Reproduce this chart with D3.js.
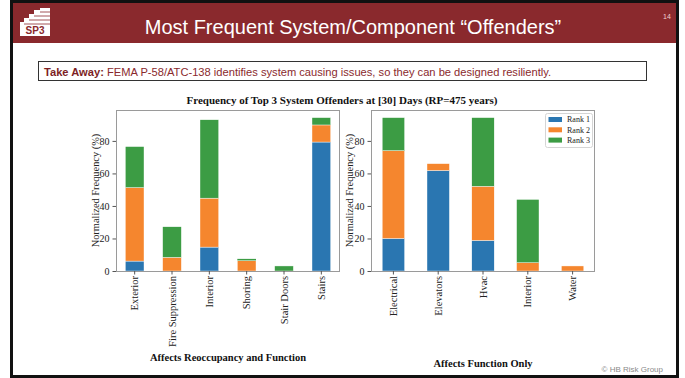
<!DOCTYPE html>
<html><head><meta charset="utf-8">
<script src="https://cdn.jsdelivr.net/npm/d3@7"></script>
<style>
html,body{margin:0;padding:0;background:#fff;}
svg{display:block;}
</style></head>
<body>
<svg id="c" width="685" height="378"></svg>
<script>
// ---- data ----
const leftCategories = ["Exterior","Fire Suppression","Interior","Shoring","Stair Doors","Stairs"];
const leftRank1 = [6.1, 0, 14.7, 0, 0, 79.3];
const leftRank2 = [45.2, 8.4, 30.1, 6.3, 0, 10.5];
const leftRank3 = [25.2, 18.8, 48.2, 1.2, 3.1, 4.5];

const rightCategories = ["Electrical","Elevators","Hvac","Interior","Water"];
const rightRank1 = [20.0, 61.8, 18.8, 0, 0];
const rightRank2 = [54.0, 4.2, 33.3, 5.1, 3.1];
const rightRank3 = [20.3, 0, 42.2, 38.9, 0];

const seriesNames = ["Rank 1","Rank 2","Rank 3"];
const yTicks = [0,20,40,60,80];
const yMax = 99;

const colors = ["#2a76b1","#f5862e","#3c9c44"];
const serif = "'Liberation Serif','Times New Roman',serif";
const sans = "'Liberation Sans',Arial,sans-serif";

const svg = d3.select("#c");

// ---- slide frame ----
svg.append("rect").attr("x",12).attr("y",3).attr("width",664).attr("height",40).attr("fill","#8a292d");
svg.append("rect").attr("x",11.5).attr("y",1.5).attr("width",666).attr("height",375)
  .attr("fill","none").attr("stroke","#111").attr("stroke-width",3);

// logo
const logo = svg.append("g");
logo.append("path").attr("d","M20,36 L20,22 L24,22 L24,18 L29,18 L29,14 L34,14 L34,10 L40,10 L40,8 L50,8 L50,36 Z")
  .attr("fill","#fff");
[[24,22],[29,18],[34,14],[40,10]].forEach(([x0,y0])=>{
  logo.append("line").attr("x1",x0).attr("x2",50).attr("y1",y0+2).attr("y2",y0+2).attr("stroke","#8a292d").attr("stroke-width",0.8);
});
logo.append("text").attr("x",35).attr("y",33.5).attr("text-anchor","middle")
  .attr("font-family",sans).attr("font-weight","bold").attr("font-size",10).attr("fill","#8a292d").text("SP3");

svg.append("text").attr("x",353).attr("y",34).attr("text-anchor","middle")
  .attr("font-family",sans).attr("font-size",20).attr("fill","#fff")
  .text("Most Frequent System/Component \u201cOffenders\u201d");
svg.append("text").attr("x",667).attr("y",19).attr("text-anchor","middle")
  .attr("font-family",sans).attr("font-size",7).attr("fill","#f2cfcf").text("14");

// take away box
svg.append("rect").attr("x",38.5).attr("y",61.5).attr("width",608).attr("height",19)
  .attr("fill","#fff").attr("stroke","#333").attr("stroke-width",1);
const ta = svg.append("text").attr("x",44).attr("y",75.5).attr("font-family",sans).attr("font-size",11.15).attr("fill","#8a292d");
ta.append("tspan").attr("font-weight","bold").attr("fill","#7d1f25").text("Take Away:");
ta.append("tspan").text(" FEMA P-58/ATC-138 identifies system causing issues, so they can be designed resiliently.");

// chart title
svg.append("text").attr("x",342).attr("y",104).attr("text-anchor","middle")
  .attr("font-family",serif).attr("font-weight","bold").attr("font-size",11).attr("fill","#111")
  .text("Frequency of Top 3 System Offenders at [30] Days (RP=475 years)");

function panel(cats, r1, r2, r3, x0, x1, subtitle, subY, ylabX, legend) {
  const top = 110, bottom = 271;
  const rows = cats.map((c,i)=>({cat:c, "Rank 1":r1[i], "Rank 2":r2[i], "Rank 3":r3[i]}));
  const stack = d3.stack().keys(seriesNames)(rows);
  const x = d3.scaleBand().domain(cats).range([x0,x1]).paddingInner(0.5).paddingOuter(0.25);
  const y = d3.scaleLinear().domain([0,yMax]).range([bottom,top]);
  const g = svg.append("g");
  stack.forEach((s,k)=>{
    g.append("g").selectAll("rect").data(s).join("rect")
      .attr("x",d=>x(d.data.cat)).attr("width",x.bandwidth())
      .attr("y",d=>y(d[1])).attr("height",d=>Math.max(0,y(d[0])-y(d[1])))
      .attr("fill",colors[k]).attr("stroke","#fff").attr("stroke-width",0.4);
  });
  // frame
  g.append("rect").attr("x",x0+0.5).attr("y",top+0.5).attr("width",x1-x0-1).attr("height",bottom-top)
    .attr("fill","none").attr("stroke","#9a9a9a").attr("stroke-width",1);
  // y axis
  const ya = g.append("g").attr("transform",`translate(${x0},0)`)
    .call(d3.axisLeft(y).tickValues(yTicks).tickSize(3.5).tickPadding(3));
  ya.select(".domain").remove();
  ya.selectAll("line").attr("stroke","#555");
  ya.selectAll("text").attr("font-family",serif).attr("font-size",10).attr("fill","#222");
  // x axis
  const xa = g.append("g").attr("transform",`translate(0,${bottom})`)
    .call(d3.axisBottom(x).tickSize(3.5));
  xa.select(".domain").remove();
  xa.selectAll("line").attr("stroke","#555");
  xa.selectAll("text").attr("transform","rotate(-90)").attr("x",-5).attr("y",0).attr("dy","0.35em")
    .style("text-anchor","end").attr("font-family",serif).attr("font-size",10.5).attr("fill","#222");
  // y label
  g.append("text").attr("transform",`translate(${ylabX},${(top+bottom)/2}) rotate(-90)`)
    .attr("text-anchor","middle").attr("font-family",serif).attr("font-size",10.4).attr("fill","#222")
    .text("Normalized Frequency (%)");
  // subtitle
  g.append("text").attr("x",(x0+x1)/2).attr("y",subY).attr("text-anchor","middle")
    .attr("font-family",serif).attr("font-weight","bold").attr("font-size",10.5).attr("fill","#111")
    .text(subtitle);
  if (legend) {
    const lg = g.append("g");
    lg.append("rect").attr("x",545.5).attr("y",113.5).attr("width",47).attr("height",34).attr("rx",2)
      .attr("fill","#fff").attr("stroke","#d5d5d5");
    seriesNames.forEach((n,i)=>{
      const cy = 119.5 + i*10.3;
      lg.append("rect").attr("x",548.5).attr("y",cy-2.5).attr("width",13.5).attr("height",5).attr("fill",colors[i]);
      lg.append("text").attr("x",567).attr("y",cy).attr("dy","0.35em").attr("font-family",serif)
        .attr("font-size",8).attr("fill","#222").text(n);
    });
  }
}

panel(leftCategories, leftRank1, leftRank2, leftRank3, 116, 340, "Affects Reoccupancy and Function", 361, 99, false);
panel(rightCategories, rightRank1, rightRank2, rightRank3, 371, 595, "Affects Function Only", 367, 353, true);

svg.append("text").attr("x",663).attr("y",372).attr("text-anchor","end")
  .attr("font-family",sans).attr("font-size",8).attr("fill","#8a8a8a").text("\u00a9 HB Risk Group");
</script>
</body></html>
